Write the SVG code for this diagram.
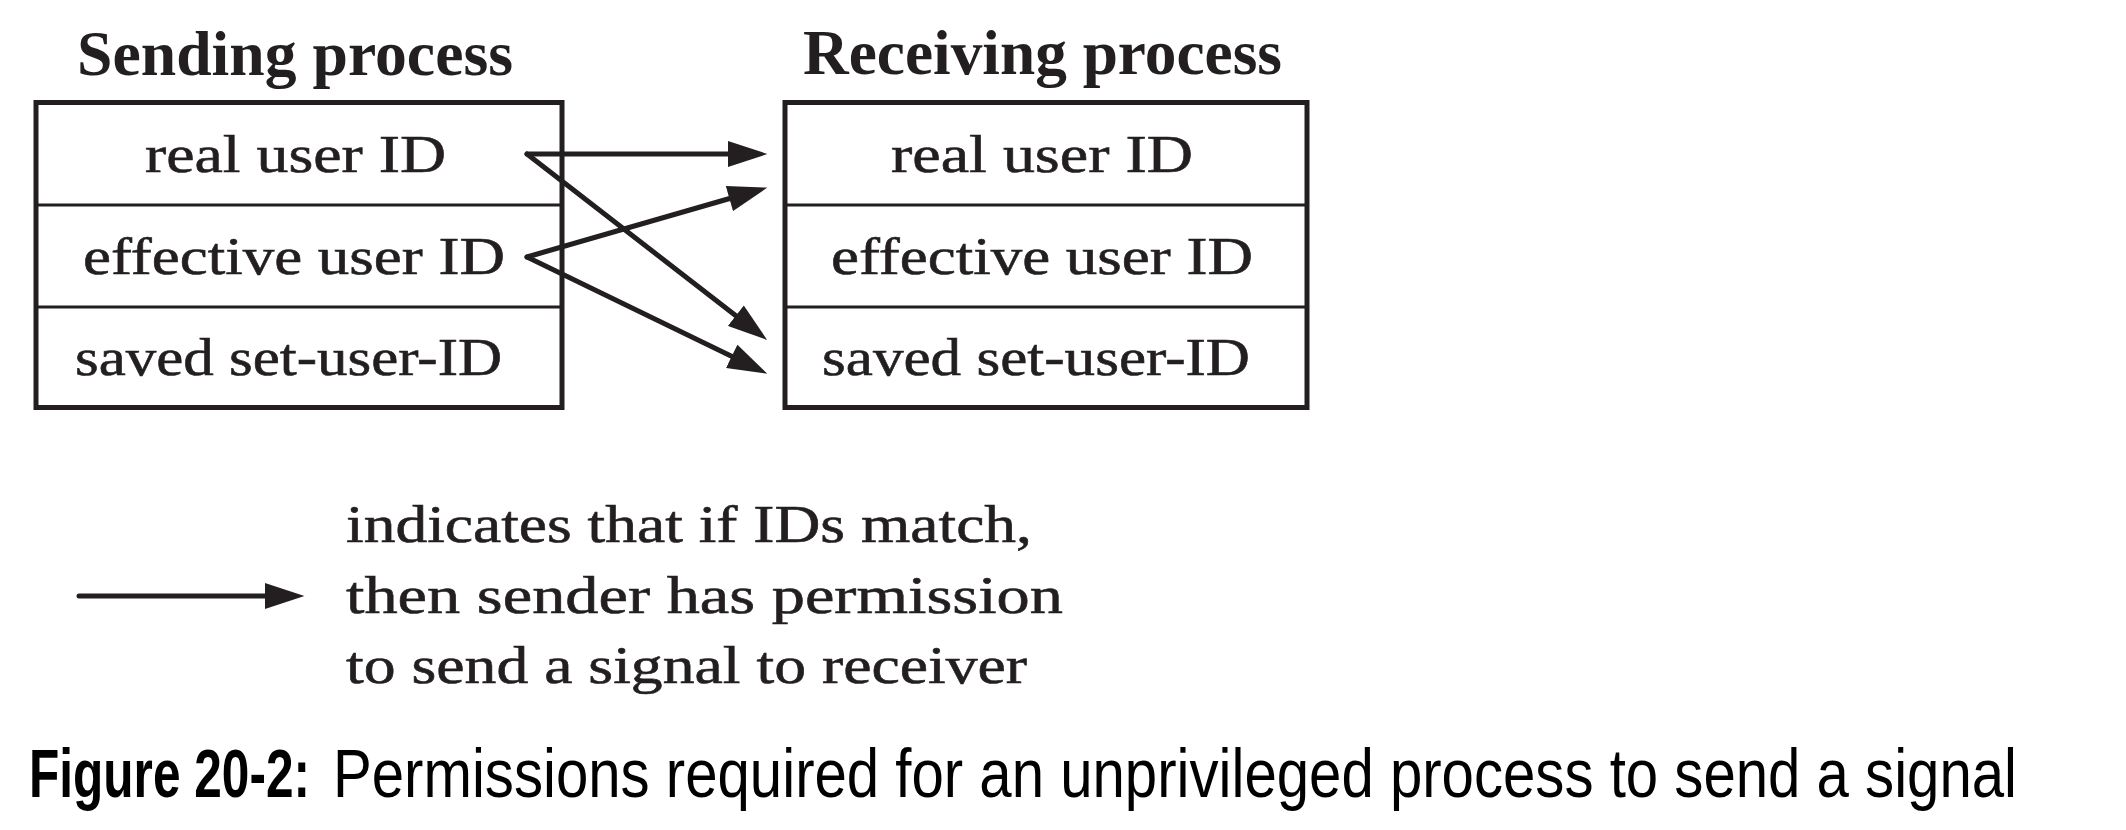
<svg xmlns="http://www.w3.org/2000/svg" width="2126" height="830" viewBox="0 0 2126 830">
<style>
  .box { fill: none; stroke: #231f20; stroke-width: 5; }
  .div { stroke: #231f20; stroke-width: 3; }
  .title { font-family: "Liberation Serif", "Times New Roman", serif; font-weight: bold; font-size: 63px; fill: #231f20; }
  .row { font-family: "Liberation Serif", "Times New Roman", serif; font-size: 53px; fill: #231f20; stroke: #231f20; stroke-width: 0.6; }
  .conn { stroke: #231f20; stroke-width: 5; stroke-linecap: round; fill: none; marker-end: url(#arrow); }
  .capb { font-family: "Liberation Sans", Arial, sans-serif; font-weight: bold; font-size: 50px; fill: #000; }
  .capr { font-family: "Liberation Sans", Arial, sans-serif; font-size: 57.8px; fill: #000; }
</style>
<defs>
  <marker id="arrow" markerUnits="userSpaceOnUse" markerWidth="40" markerHeight="26" refX="2" refY="12.5" orient="auto" viewBox="0 0 38 25">
    <path d="M0,0 L38,12.5 L0,25 z" fill="#231f20"/>
  </marker>
</defs>
<rect width="2126" height="830" fill="#fff"/>

<g id="sending-process">
  <text class="title" x="77" y="75" textLength="436" lengthAdjust="spacingAndGlyphs">Sending process</text>
  <rect class="box" x="36" y="102.5" width="526" height="305"/>
  <line class="div" x1="36" y1="205" x2="562" y2="205"/>
  <line class="div" x1="36" y1="307" x2="562" y2="307"/>
  <text class="row" x="145" y="172" textLength="301" lengthAdjust="spacingAndGlyphs">real user ID</text>
  <text class="row" x="83" y="274" textLength="422" lengthAdjust="spacingAndGlyphs">effective user ID</text>
  <text class="row" x="75" y="375" textLength="427" lengthAdjust="spacingAndGlyphs">saved set-user-ID</text>
</g>

<g id="receiving-process">
  <text class="title" x="803" y="74" textLength="479" lengthAdjust="spacingAndGlyphs">Receiving process</text>
  <rect class="box" x="785" y="102.5" width="522" height="305"/>
  <line class="div" x1="785" y1="205" x2="1307" y2="205"/>
  <line class="div" x1="785" y1="307" x2="1307" y2="307"/>
  <text class="row" x="891" y="172" textLength="302" lengthAdjust="spacingAndGlyphs">real user ID</text>
  <text class="row" x="831" y="274" textLength="422" lengthAdjust="spacingAndGlyphs">effective user ID</text>
  <text class="row" x="822" y="375" textLength="428" lengthAdjust="spacingAndGlyphs">saved set-user-ID</text>
</g>

<g id="connectors">
  <line class="conn" x1="527" y1="154" x2="730" y2="154"/>
  <line class="conn" x1="527" y1="154" x2="737.5" y2="317"/>
  <line class="conn" x1="527" y1="257" x2="731.4" y2="198"/>
  <line class="conn" x1="527" y1="257" x2="733.6" y2="357.3"/>
</g>

<g id="legend">
  <line class="conn" x1="79" y1="596" x2="267" y2="596"/>
  <text class="row" x="346" y="542" textLength="686" lengthAdjust="spacingAndGlyphs">indicates that if IDs match,</text>
  <text class="row" x="346" y="613" textLength="717" lengthAdjust="spacingAndGlyphs">then sender has permission</text>
  <text class="row" x="346" y="683" textLength="681" lengthAdjust="spacingAndGlyphs">to send a signal to receiver</text>
</g>

<g id="caption">
  <text class="capb" transform="translate(29,797) scale(1,1.37)" x="0" y="0" textLength="281" lengthAdjust="spacingAndGlyphs">Figure 20-2:</text>
  <text class="capr" transform="translate(333,797) scale(1,1.2)" x="0" y="0" textLength="1684" lengthAdjust="spacingAndGlyphs">Permissions required for an unprivileged process to send a signal</text>
</g>
</svg>
